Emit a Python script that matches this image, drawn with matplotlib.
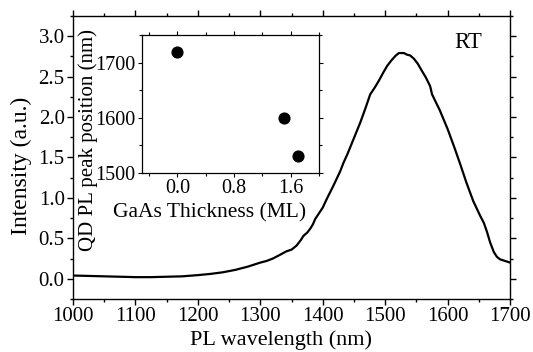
import matplotlib
matplotlib.use("Agg")
import matplotlib.pyplot as plt
from matplotlib.ticker import MultipleLocator

plt.rcParams['font.family'] = ['Liberation Serif', 'DejaVu Serif']

# Main PL spectrum
wavelength = [1000, 1025, 1050, 1075, 1100, 1125, 1150, 1175, 1200, 1220,
              1240, 1260, 1280, 1300, 1310, 1320, 1330, 1342, 1350, 1358,
              1365, 1369, 1375, 1380, 1384, 1388, 1394, 1400, 1406, 1417,
              1428, 1433, 1440, 1450, 1460, 1468, 1476, 1483, 1490, 1497,
              1503, 1510, 1517, 1522, 1530, 1535, 1540, 1546, 1552, 1558,
              1565, 1572, 1575, 1580, 1587, 1593, 1600, 1610, 1620, 1630,
              1641, 1652, 1658, 1663, 1668, 1674, 1679, 1684, 1692, 1700]
intensity = [0.04, 0.035, 0.03, 0.025, 0.02, 0.02, 0.025, 0.03, 0.045, 0.06,
             0.08, 0.11, 0.15, 0.20, 0.22, 0.25, 0.29, 0.34, 0.36, 0.41,
             0.48, 0.53, 0.57, 0.62, 0.67, 0.74, 0.81, 0.88, 0.98, 1.15,
             1.33, 1.43, 1.55, 1.74, 1.93, 2.10, 2.28, 2.36, 2.45, 2.55,
             2.63, 2.70, 2.76, 2.79, 2.79, 2.77, 2.76, 2.72, 2.66, 2.58,
             2.49, 2.38, 2.28, 2.20, 2.09, 1.98, 1.85, 1.64, 1.42, 1.19,
             0.96, 0.78, 0.69, 0.58, 0.45, 0.33, 0.27, 0.24, 0.22, 0.20]

# Inset: QD PL peak position vs GaAs thickness
thickness = [0.0, 1.5, 1.7]
peak_pos = [1720, 1600, 1530]

main_xticks = [1000, 1100, 1200, 1300, 1400, 1500, 1600, 1700]
main_yticks = [0.0, 0.5, 1.0, 1.5, 2.0, 2.5, 3.0]
inset_xticks = [0.0, 0.8, 1.6]
inset_yticks = [1500, 1600, 1700]

fig = plt.figure(figsize=(5.33, 3.52), dpi=100)
ax = fig.add_axes([0.137, 0.1506, 0.820, 0.8044])
ax.plot(wavelength, intensity, color='black', lw=1.6)
ax.set_xlim(1000, 1700)
ax.set_ylim(-0.25, 3.25)
ax.set_xticks(main_xticks)
ax.set_yticks(main_yticks)
ax.set_yticklabels([f"{v:.1f}" for v in main_yticks])
ax.xaxis.set_minor_locator(MultipleLocator(50))
ax.yaxis.set_minor_locator(MultipleLocator(0.25))
ax.tick_params(which='both', direction='out', top=True, right=True,
               labeltop=False, labelright=False, labelsize=15, width=1,
               pad=2)
ax.tick_params(which='major', length=4)
ax.tick_params(which='minor', length=2.5)
for s in ax.spines.values():
    s.set_linewidth(1)
ax.set_xlabel('PL wavelength (nm)', fontsize=16)
ax.xaxis.set_label_coords(0.477, -0.11)
ax.set_ylabel('Intensity (a.u.)', fontsize=17)
ax.yaxis.set_label_coords(-0.094, 0.47)
ax.text(0.904, 0.905, 'RT', transform=ax.transAxes, fontsize=16.5,
        ha='center', va='center')

ins = fig.add_axes([0.2664, 0.5094, 0.3321, 0.3912])
ins.scatter(thickness, peak_pos, s=60, color='black', zorder=3)
ins.set_xlim(-0.5, 2.0)
ins.set_ylim(1500, 1750)
ins.set_xticks(inset_xticks)
ins.set_xticklabels([f"{v:.1f}" for v in inset_xticks])
ins.set_yticks(inset_yticks)
ins.xaxis.set_minor_locator(MultipleLocator(0.4))
ins.yaxis.set_minor_locator(MultipleLocator(50))
ins.tick_params(which='both', direction='out', top=True, right=True,
                labeltop=False, labelright=False, labelsize=14.5, width=0.8,
                pad=1.5)
ins.tick_params(which='major', length=3)
ins.tick_params(which='minor', length=2)
for s in ins.spines.values():
    s.set_linewidth(0.9)
ins.set_xlabel('GaAs Thickness (ML)', fontsize=15.5)
ins.xaxis.set_label_coords(0.384, -0.22)
ins.set_ylabel('QD PL peak position (nm)', fontsize=15)
ins.yaxis.set_label_coords(-0.25, 0.237)

fig.savefig('out.png', dpi=100)
